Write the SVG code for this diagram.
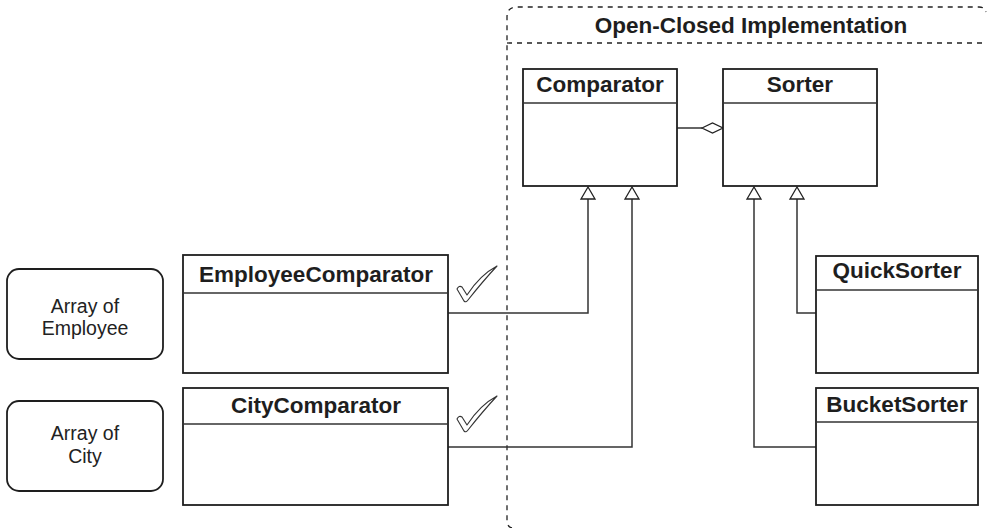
<svg xmlns="http://www.w3.org/2000/svg" width="987" height="528" viewBox="0 0 987 528">
<style>
.box{fill:#fff;stroke:#1e1e1e;stroke-width:1.8}
.div{stroke:#333;stroke-width:1.5}
.title{font-family:"Liberation Sans",Arial,sans-serif;font-weight:bold;font-size:22.5px;fill:#1e1e1e;text-anchor:middle}
.lbl{font-family:"Liberation Sans",Arial,sans-serif;font-size:19.5px;fill:#222;text-anchor:middle}
.conn{fill:none;stroke:#333;stroke-width:1.5}
.tri{fill:#fff;stroke:#222;stroke-width:1.3}
.dash{fill:none;stroke:#222;stroke-width:1.3;stroke-dasharray:5 5}
.chk{fill:#fff;stroke:#333;stroke-width:1.1;stroke-linejoin:round}
</style>
<defs>
<path id="check" class="chk" d="M457,289 Q459,285 462,287 L467,295 Q480,275 497,266 Q483,281 468,300 Q466,303 464,301 Z"/>
</defs>
<g id="container">
<path class="dash" d="M512,528 Q507,527 507,520 L507,17 Q507,7 517,7 L979,7 Q985,7 986,12"/>
<path class="dash" d="M507,43 L986,43"/>
<text class="title" x="751" y="33">Open-Closed Implementation</text>
</g>
<g id="connectors">
<path class="conn" d="M677,128 L702,128"/>
<polygon class="tri" points="702,128 712.5,123 723,128 712.5,133"/>
<path class="conn" d="M448,313 L588,313 L588,199"/>
<polygon class="tri" points="588,187 581,199 595,199"/>
<path class="conn" d="M448,447 L632,447 L632,199"/>
<polygon class="tri" points="632,187 625,199 639,199"/>
<path class="conn" d="M816,313 L797,313 L797,199"/>
<polygon class="tri" points="797,187 790,199 804,199"/>
<path class="conn" d="M816,447 L754,447 L754,199"/>
<polygon class="tri" points="754,187 747,199 761,199"/>
</g>
<g id="comparator">
<rect class="box" x="523" y="69" width="154" height="117"/>
<line class="div" x1="523" y1="103" x2="677" y2="103"/>
<text class="title" x="600" y="92">Comparator</text>
</g>
<g id="sorter">
<rect class="box" x="723" y="69" width="154" height="117"/>
<line class="div" x1="723" y1="103" x2="877" y2="103"/>
<text class="title" x="800" y="92">Sorter</text>
</g>
<g id="employeeComparator">
<rect class="box" x="183" y="255" width="265" height="118"/>
<line class="div" x1="183" y1="293" x2="448" y2="293"/>
<text class="title" x="316" y="282">EmployeeComparator</text>
</g>
<g id="cityComparator">
<rect class="box" x="183" y="388" width="265" height="117"/>
<line class="div" x1="183" y1="424" x2="448" y2="424"/>
<text class="title" x="316" y="413">CityComparator</text>
</g>
<g id="quickSorter">
<rect class="box" x="816" y="256" width="162" height="117"/>
<line class="div" x1="816" y1="290" x2="978" y2="290"/>
<text class="title" x="897" y="278">QuickSorter</text>
</g>
<g id="bucketSorter">
<rect class="box" x="816" y="388" width="162" height="117"/>
<line class="div" x1="816" y1="422" x2="978" y2="422"/>
<text class="title" x="897" y="412">BucketSorter</text>
</g>
<g id="arrayEmployee">
<rect class="box" x="7" y="269" width="156" height="90" rx="12" stroke-width="1.3"/>
<text class="lbl" x="85" y="313">Array of</text>
<text class="lbl" x="85" y="335">Employee</text>
</g>
<g id="arrayCity">
<rect class="box" x="7" y="401" width="156" height="90" rx="12" stroke-width="1.3"/>
<text class="lbl" x="85" y="440">Array of</text>
<text class="lbl" x="85" y="463">City</text>
</g>
<g id="checks">
<use href="#check"/>
<use href="#check" transform="translate(0,130)"/>
</g>
</svg>
